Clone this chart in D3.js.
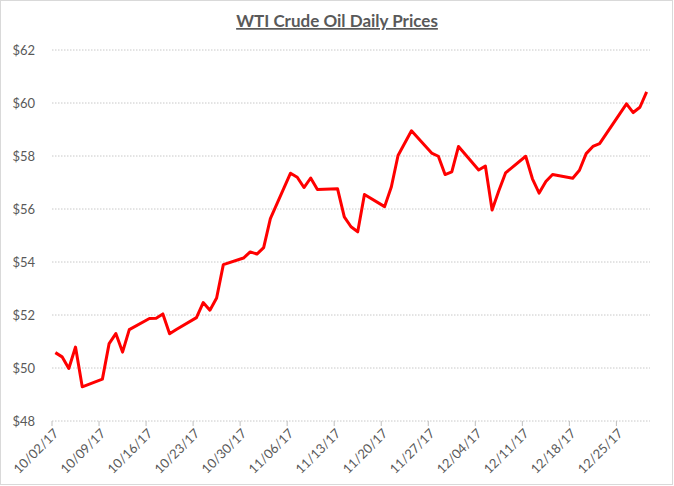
<!DOCTYPE html>
<html>
<head>
<meta charset="utf-8">
<script src="https://cdn.jsdelivr.net/npm/d3@7"></script>
<style>
  body { margin: 0; background: #fff; }
  svg { display: block; font-family: Lato, "Open Sans", sans-serif; }
</style>
</head>
<body>
<svg id="chart" width="674" height="486"></svg>
<script>
// trading days, Oct - Dec 2017
const dates = [
  "2017-10-02","2017-10-03","2017-10-04","2017-10-05","2017-10-06",
  "2017-10-09","2017-10-10","2017-10-11","2017-10-12","2017-10-13",
  "2017-10-16","2017-10-17","2017-10-18","2017-10-19","2017-10-20",
  "2017-10-23","2017-10-24","2017-10-25","2017-10-26","2017-10-27",
  "2017-10-30","2017-10-31","2017-11-01","2017-11-02","2017-11-03",
  "2017-11-06","2017-11-07","2017-11-08","2017-11-09","2017-11-10",
  "2017-11-13","2017-11-14","2017-11-15","2017-11-16","2017-11-17",
  "2017-11-20","2017-11-21","2017-11-22","2017-11-24",
  "2017-11-27","2017-11-28","2017-11-29","2017-11-30","2017-12-01",
  "2017-12-04","2017-12-05","2017-12-06","2017-12-07","2017-12-08",
  "2017-12-11","2017-12-12","2017-12-13","2017-12-14","2017-12-15",
  "2017-12-18","2017-12-19","2017-12-20","2017-12-21","2017-12-22",
  "2017-12-26","2017-12-27","2017-12-28","2017-12-29"
];
const prices = [
  50.58, 50.42, 49.98, 50.79, 49.29,
  49.58, 50.92, 51.30, 50.60, 51.45,
  51.87, 51.88, 52.04, 51.29, 51.45,
  51.90, 52.47, 52.18, 52.64, 53.90,
  54.15, 54.38, 54.30, 54.54, 55.64,
  57.35, 57.20, 56.81, 57.17, 56.74,
  56.76, 55.70, 55.33, 55.14, 56.55,
  56.09, 56.83, 58.02, 58.95,
  58.11, 57.99, 57.30, 57.40, 58.36,
  57.47, 57.62, 55.96, 56.69, 57.36,
  57.99, 57.14, 56.60, 57.04, 57.30,
  57.16, 57.46, 58.09, 58.36, 58.47,
  59.97, 59.64, 59.84, 60.42
];
const yTicks = [48, 50, 52, 54, 56, 58, 60, 62];
const axisStart = "2017-10-02";
const axisEnd = "2017-12-30";

const svg = d3.select("#chart");
const W = 674, H = 486;
const plot = { left: 52, right: 650, top: 50, bottom: 421 };
const textColor = "#595959";

// chart border
svg.append("rect")
  .attr("x", 0.5).attr("y", 0.5)
  .attr("width", W - 2).attr("height", H - 2)
  .attr("fill", "#fff").attr("stroke", "#d9d9d9");

// title
svg.append("text")
  .attr("x", 337).attr("y", 27)
  .attr("text-anchor", "middle")
  .attr("font-size", 17).attr("font-weight", "bold")
  .attr("fill", textColor)
  .attr("text-decoration", "underline")
  .text("WTI Crude Oil Daily Prices");

const parse = d3.utcParse("%Y-%m-%d");
const data = dates.map((d, i) => ({ date: parse(d), value: prices[i] }));

const x = d3.scaleUtc()
  .domain([parse(axisStart), parse(axisEnd)])
  .range([plot.left, plot.right]);

const y = d3.scaleLinear()
  .domain([48, 62])
  .range([plot.bottom, plot.top]);

// gridlines
svg.append("g")
  .selectAll("line")
  .data(yTicks)
  .join("line")
  .attr("x1", plot.left).attr("x2", plot.right)
  .attr("y1", d => y(d)).attr("y2", d => y(d))
  .attr("stroke", "#c8c8c8")
  .attr("stroke-dasharray", "1.5,1.5");

// y labels
svg.append("g")
  .selectAll("text")
  .data(yTicks)
  .join("text")
  .attr("x", 35).attr("y", d => y(d))
  .attr("dy", "0.35em")
  .attr("text-anchor", "end")
  .attr("font-size", 13)
  .attr("fill", textColor)
  .text(d => "$" + d);

// x axis ticks
const weeks = d3.utcMonday.range(parse(axisStart), parse(axisEnd));
const fmt = d3.utcFormat("%m/%d/%y");

const xg = svg.append("g").attr("transform", `translate(0,${plot.bottom})`);

xg.selectAll("line")
  .data(weeks)
  .join("line")
  .attr("x1", d => x(d)).attr("x2", d => x(d))
  .attr("y1", 0).attr("y2", 5)
  .attr("stroke", "#bfbfbf");

xg.selectAll("text")
  .data(weeks)
  .join("text")
  .attr("transform", d => `translate(${x(d) + 4},${10}) rotate(-45)`)
  .attr("text-anchor", "end")
  .attr("dy", "0.35em")
  .attr("font-size", 13)
  .attr("fill", textColor)
  .text(d => fmt(d));

// price line, points sit mid-day
const line = d3.line()
  .x(d => x(d3.utcHour.offset(d.date, 12)))
  .y(d => y(d.value));

svg.append("path")
  .datum(data)
  .attr("d", line)
  .attr("fill", "none")
  .attr("stroke", "#ff0000")
  .attr("stroke-width", 3)
  .attr("stroke-linejoin", "round");
</script>
</body>
</html>
